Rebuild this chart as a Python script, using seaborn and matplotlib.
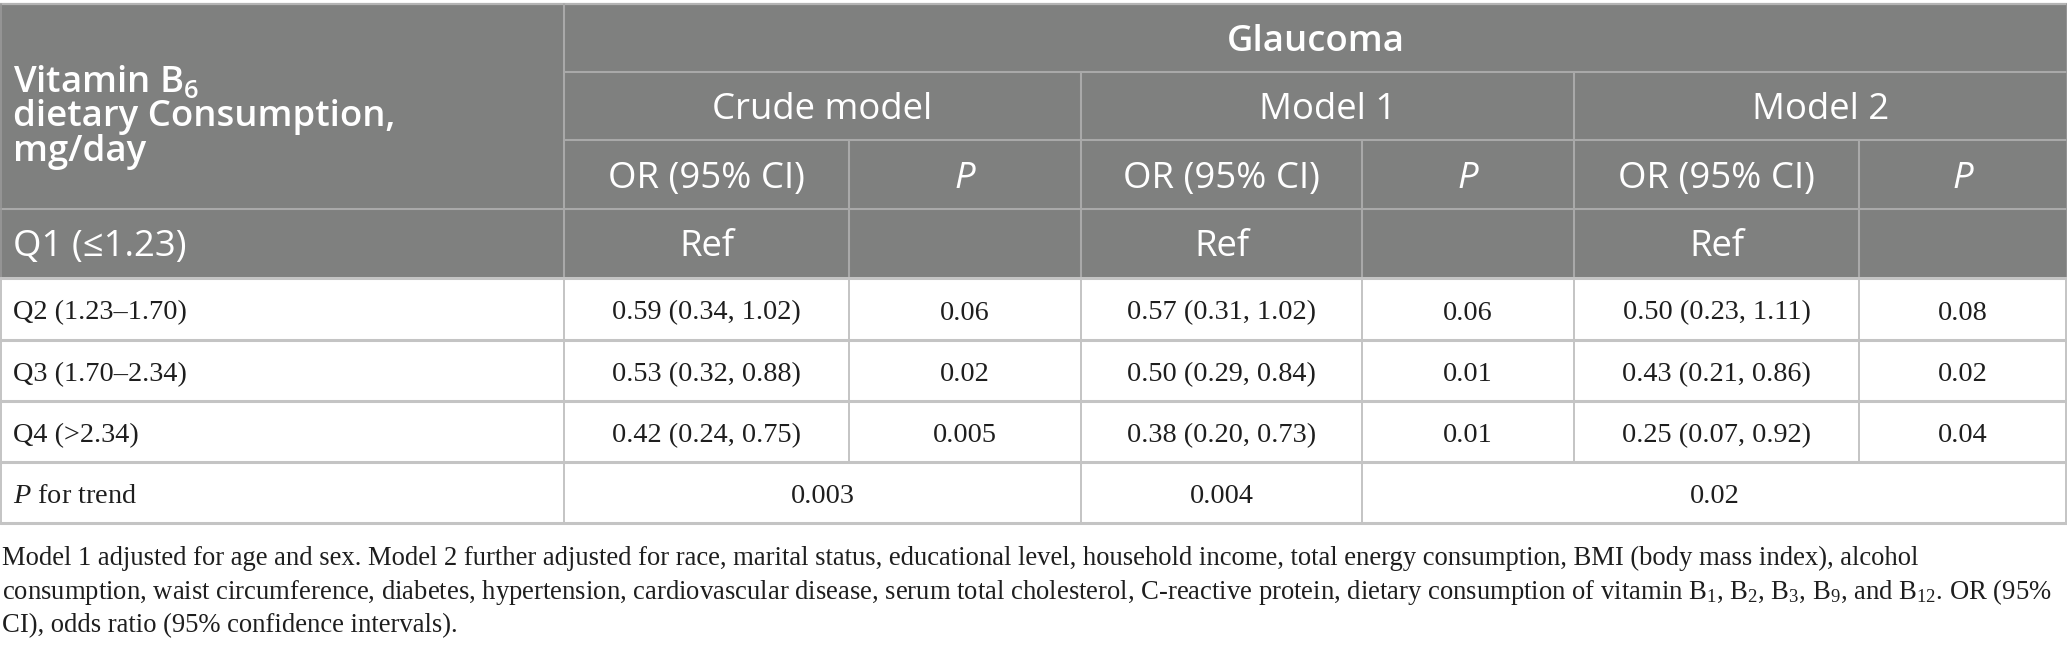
import matplotlib
matplotlib.use("Agg")
import matplotlib.pyplot as plt
import seaborn as sns

# ---------------- data ----------------
outcome = "Glaucoma"
exposure_lines = ["Vitamin B$\\mathregular{_6}$", "dietary Consumption,", "mg/day"]
models = ["Crude model", "Model 1", "Model 2"]
stat_headers = ["OR (95% CI)", "P"]
ref_label = "Q1 (≤1.23)"
ref_value = "Ref"
quartiles = ["Q2 (1.23–1.70)", "Q3 (1.70–2.34)", "Q4 (>2.34)"]
crude_or = ["0.59 (0.34, 1.02)", "0.53 (0.32, 0.88)", "0.42 (0.24, 0.75)"]
crude_p = ["0.06", "0.02", "0.005"]
m1_or = ["0.57 (0.31, 1.02)", "0.50 (0.29, 0.84)", "0.38 (0.20, 0.73)"]
m1_p = ["0.06", "0.01", "0.01"]
m2_or = ["0.50 (0.23, 1.11)", "0.43 (0.21, 0.86)", "0.25 (0.07, 0.92)"]
m2_p = ["0.08", "0.02", "0.04"]
trend_label = "$P$ for trend"
p_trend = ["0.003", "0.004", "0.02"]
footnote_lines = [
    "Model 1 adjusted for age and sex. Model 2 further adjusted for race, marital status, educational level, "
    "household income, total energy consumption, BMI (body mass index), alcohol",
    "consumption, waist circumference, diabetes, hypertension, cardiovascular disease, serum total cholesterol, "
    "C-reactive protein, dietary consumption of vitamin B$\\mathregular{_1}$, B$\\mathregular{_2}$, "
    "B$\\mathregular{_3}$, B$\\mathregular{_9}$, and B$\\mathregular{_{12}}$. OR (95%",
    "CI), odds ratio (95% confidence intervals).",
]

# ---------------- layout / style ----------------
W, H = 2067, 650
col_x = [0, 564, 849, 1081, 1362, 1574, 1859, 2067]
row_y = [4, 72, 140, 209, 278, 340, 401, 462, 523]
trend_spans = [(1, 3), (3, 4), (4, 7)]
model_spans = [(1, 3), (3, 5), (5, 7)]
DY = 4  # small downward nudge of text baselines

HEAD_BG = "#7f807f"
HEAD_LINE = "#a9a9a9"
BODY_LINE = "#c4c4c4"
TXT = "#1e1e1e"
SANS = ["Open Sans", "DejaVu Sans"]
SERIF = ["Liberation Serif", "DejaVu Serif"]
HEAD_FS = 26.3
BODY_FS = 20.3
FOOT_FS = 19.2

sns.set_theme(style="white")
plt.rcParams["font.family"] = SERIF
plt.rcParams["mathtext.fontset"] = "custom"
plt.rcParams["mathtext.rm"] = "Liberation Serif"
plt.rcParams["mathtext.it"] = "Liberation Serif:italic"

fig = plt.figure(figsize=(W / 100, H / 100), dpi=100)
ax = fig.add_axes([0, 0, 1, 1])
ax.set_xlim(0, W)
ax.set_ylim(H, 0)
ax.axis("off")


def cx(a, b):
    return (col_x[a] + col_x[b]) / 2


def cy(r):
    return (row_y[r] + row_y[r + 1]) / 2 + DY


# header background (rows 0..3)
ax.fill_between([0, W], row_y[0], row_y[4], color=HEAD_BG, lw=0, zorder=0)
ax.plot([0, W], [row_y[0], row_y[0]], color="#b4b4b4", lw=1.6, zorder=2)

# header horizontal lines
for r in (1, 2):
    ax.plot([col_x[1], W], [row_y[r], row_y[r]], color=HEAD_LINE, lw=1.5, zorder=2)
ax.plot([0, W], [row_y[3], row_y[3]], color=HEAD_LINE, lw=1.5, zorder=2)
# header vertical lines
ax.plot([col_x[1], col_x[1]], [row_y[0], row_y[4]], color=HEAD_LINE, lw=1.5, zorder=2)
for a, b in model_spans[1:]:
    ax.plot([col_x[a], col_x[a]], [row_y[1], row_y[4]], color=HEAD_LINE, lw=1.5, zorder=2)
for c in (2, 4, 6):
    ax.plot([col_x[c], col_x[c]], [row_y[2], row_y[4]], color=HEAD_LINE, lw=1.5, zorder=2)
ax.plot([0.5, 0.5], [row_y[0], row_y[4]], color="#999999", lw=1.2, zorder=2)
ax.plot([W - 0.5, W - 0.5], [row_y[0], row_y[4]], color="#999999", lw=1.2, zorder=2)

# body lines
for r in range(4, 9):
    ax.plot([0, W], [row_y[r], row_y[r]], color=BODY_LINE, lw=2.2, zorder=2)
for c in range(1, 7):
    ax.plot([col_x[c], col_x[c]], [row_y[4], row_y[7]], color=BODY_LINE, lw=1.4, zorder=1)
for a, b in trend_spans:
    ax.plot([col_x[a], col_x[a]], [row_y[7], row_y[8]], color=BODY_LINE, lw=1.4, zorder=1)
for xb in (0.7, W - 0.7):
    ax.plot([xb, xb], [row_y[4], row_y[8]], color=BODY_LINE, lw=1.4, zorder=1)

# header texts
hkw = dict(color="white", family=SANS, fontsize=HEAD_FS, va="center")
ax.text(cx(1, 7), cy(0), outcome, ha="center", fontweight="semibold", **hkw)
for i, line in enumerate(exposure_lines):
    ax.text(13, 78 + DY + 35 * i, line, ha="left", fontweight="semibold", **hkw)
for (a, b), m in zip(model_spans, models):
    ax.text(cx(a, b), cy(1), m, ha="center", **hkw)
for a in (1, 3, 5):
    ax.text(cx(a, a + 1), cy(2), stat_headers[0], ha="center", **hkw)
    ax.text(cx(a + 1, a + 2), cy(2), stat_headers[1], ha="center", style="italic", **hkw)
ax.text(13, cy(3), ref_label, ha="left", **hkw)
for a in (1, 3, 5):
    ax.text(cx(a, a + 1), cy(3), ref_value, ha="center", **hkw)

# body texts
bkw = dict(color=TXT, family=SERIF, fontsize=BODY_FS, va="center")
cols = [crude_or, crude_p, m1_or, m1_p, m2_or, m2_p]
for i, q in enumerate(quartiles):
    r = 4 + i
    ax.text(13, cy(r), q, ha="left", **bkw)
    for c, vals in enumerate(cols):
        ax.text(cx(c + 1, c + 2), cy(r), vals[i], ha="center", **bkw)
ax.text(13, cy(7), trend_label, ha="left", **bkw)
for (a, b), v in zip(trend_spans, p_trend):
    ax.text(cx(a, b), cy(7), v, ha="center", **bkw)

# footnote
for i, line in enumerate(footnote_lines):
    ax.text(2, 558 + 34 * i, line, ha="left", va="center", color=TXT,
            family=SERIF, fontsize=FOOT_FS)

fig.savefig("out.png", dpi=100)
